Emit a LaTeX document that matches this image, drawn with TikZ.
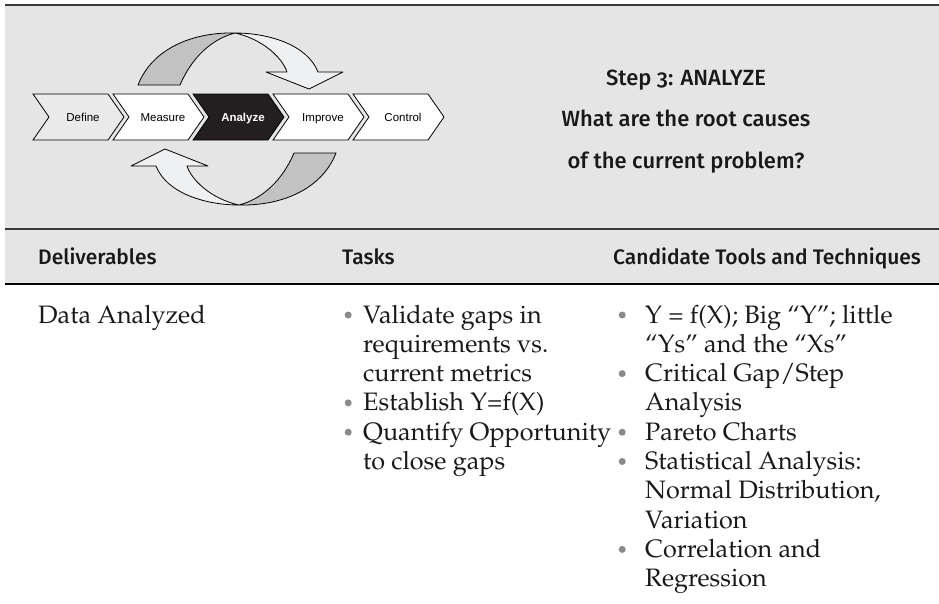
\documentclass[tikz,border=0pt]{standalone}
\usepackage[T1]{fontenc}
\usepackage{fontspec}
\usepackage{tikz}
\newfontfamily\headfont{Fira Sans Medium}[Numbers=OldStyle]
\newfontfamily\stagefont{Liberation Sans}
\newcommand\bodyfont{\fontencoding{T1}\fontfamily{ppl}\fontsize{25.2}{29.3}\selectfont}
\definecolor{panelgray}{HTML}{E5E5E5}
\definecolor{banddark}{HTML}{C2C2C2}
\definecolor{bandlight}{HTML}{EFF0F2}
\definecolor{definefill}{HTML}{EAEAEA}
\definecolor{analyzefill}{HTML}{231F20}
\definecolor{bulletgray}{HTML}{8A8A8A}
\definecolor{rulegray}{HTML}{3A3A3A}
\newcommand\bul{\textcolor{bulletgray}{\raisebox{4.5pt}{\tikz\fill (0,0) circle (3.5pt);}}}
% one of the two curved cycle arrows, drawn round (0,0)
\newcommand\cyclearrow{%
\filldraw[bandline,fill=banddark] (-99,-34) -- (-57,-34) .. controls (-45,-62) and (-25,-80) .. (-2,-86)
  .. controls (-45,-87) and (-85,-70) .. (-99,-34) -- cycle;
\filldraw[bandline,fill=bandlight] (-2,-86) .. controls (30,-86) and (70,-75) .. (81,-47) -- (106,-47) -- (72,-30)
  -- (29,-47) -- (50,-47) .. controls (45,-62) and (25,-80) .. (-2,-86) -- cycle;
}

\begin{document}
\begin{tikzpicture}[x=1pt,y=-1pt,
  chevline/.style={draw=black,line width=0.8pt},
  bandline/.style={draw=black,line width=0.8pt,line join=round},
  stagelabel/.style={font=\stagefont\fontsize{11.5}{13}\selectfont,inner sep=0pt,anchor=base},
  headtext/.style={font=\headfont\fontsize{21}{24}\selectfont,text=black!90,inner sep=0pt},
  steptext/.style={font=\headfont\fontsize{22}{24}\selectfont,text=black!90,inner sep=0pt,anchor=base},
  bodytext/.style={font=\bodyfont,text=black!90,inner sep=0pt,anchor=base west},
  ruleline/.style={draw=rulegray,line width=1.4pt}]
\useasboundingbox (0,0) rectangle (939,603);
\fill[panelgray] (5,5) rectangle (939,284);

% cycle arrows
\begin{scope}[shift={(237,119)}]
\cyclearrow
\end{scope}
\begin{scope}[shift={(237,119)},rotate=180]
\cyclearrow
\end{scope}

% DMAIC chevrons
\draw[chevline,fill=definefill] (33,94) -- ++(75,0) -- ++(16,23) -- ++(-16,23) -- ++(-75,0) -- ++(16,-23) -- cycle;
\node[stagelabel] (define) at (83,121.5) {Define};
\draw[chevline,fill=white] (113,94) -- ++(75,0) -- ++(16,23) -- ++(-16,23) -- ++(-75,0) -- ++(16,-23) -- cycle;
\node[stagelabel] (measure) at (163,121.5) {Measure};
\draw[chevline,fill=analyzefill] (193,94) -- ++(75,0) -- ++(16,23) -- ++(-16,23) -- ++(-75,0) -- ++(16,-23) -- cycle;
\node[stagelabel,text=white,font=\stagefont\bfseries\fontsize{11.5}{13}\selectfont] (analyze) at (243,121.5) {Analyze};
\draw[chevline,fill=white] (273,94) -- ++(75,0) -- ++(16,23) -- ++(-16,23) -- ++(-75,0) -- ++(16,-23) -- cycle;
\node[stagelabel] (improve) at (323,121.5) {Improve};
\draw[chevline,fill=white] (353,94) -- ++(75,0) -- ++(16,23) -- ++(-16,23) -- ++(-75,0) -- ++(16,-23) -- cycle;
\node[stagelabel] (control) at (403,121.5) {Control};

% step text
\node[steptext] (steptitle) at (686,85) {Step 3: ANALYZE};
\node[steptext] (question) at (686,126.5) {What are the root causes};
\node[steptext] (question2) at (686,168) {of the current problem?};

% table rules
\draw[ruleline] (5,5) -- (939,5);
\draw[ruleline] (5,229) -- (939,229);
\draw[ruleline,draw=black,line width=1.8pt] (5,284) -- (939,284);

% header row
\node[headtext,anchor=base west] (deliverables) at (38,264) {Deliverables};
\node[headtext,anchor=base west] (tasks) at (342,264) {Tasks};
\node[headtext,anchor=base west] (tools) at (613,264) {Candidate Tools and Techniques};

% body row
\node[bodytext] (data) at (38,323) {Data Analyzed};
\node[bodytext] (tasklist) at (344.5,323) {\begin{tabular}[t]{@{}p{18.5pt}@{}l@{}}
\bul & Validate gaps in\\
 & requirements vs.\\
 & current metrics\\
\bul & Establish Y=f(X)\\
\bul & Quantify Opportunity\\
 & to close gaps
\end{tabular}};
\node[bodytext] (toollist) at (618.5,323) {\begin{tabular}[t]{@{}p{26.5pt}@{}l@{}}
\bul & Y = f(X); Big ``Y''; little\\
 & ``Ys'' and the ``Xs''\\
\bul & Critical Gap/Step\\
 & Analysis\\
\bul & Pareto Charts\\
\bul & Statistical Analysis:\\
 & Normal Distribution,\\
 & Variation\\
\bul & Correlation and\\
 & Regression
\end{tabular}};
\end{tikzpicture}
\end{document}
